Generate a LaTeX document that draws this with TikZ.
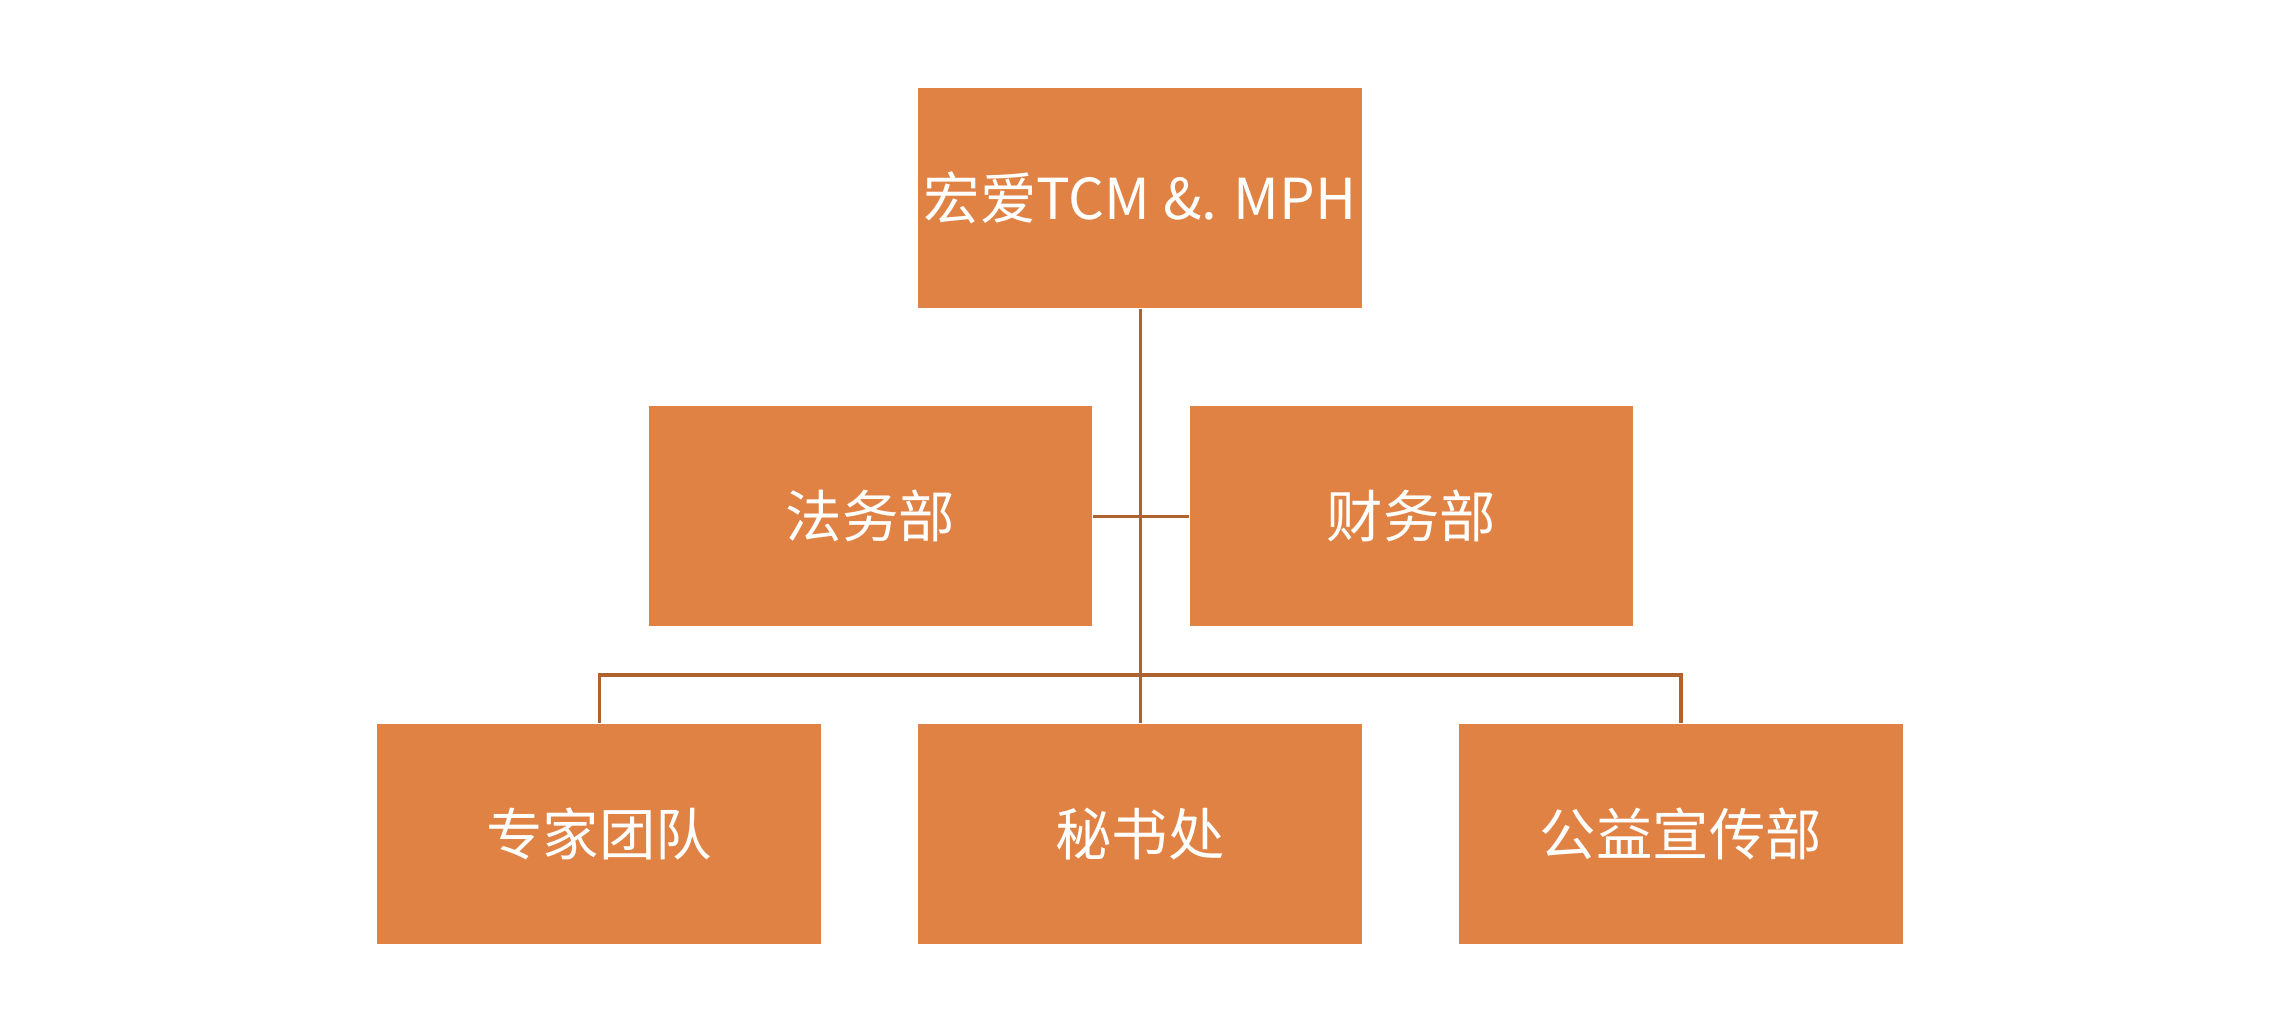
\documentclass[tikz,border=0pt]{standalone}
\usepackage{fontspec}
\setmainfont{Noto Sans CJK SC}
\usetikzlibrary{positioning}
\definecolor{boxorange}{HTML}{E08244}
\definecolor{linkbrown}{HTML}{B0622E}
\begin{document}
\begin{tikzpicture}[x=0.01cm,y=-0.01cm,
  dept/.style={fill=boxorange,text=white,minimum width=3.04cm,minimum height=1.51cm,inner sep=0pt,font=\fontsize{11}{13}\selectfont},
  link/.style={draw=linkbrown,line width=0.6pt}]
\useasboundingbox (0,0) rectangle (1568,697);
\node[dept] (top) at (782,136) {宏爱TCM \&. MPH};
% middle row
\node[dept] (law) at (597,354) {法务部};
\node[dept] (fin) at (968,354) {财务部};
% bottom row
\node[dept] (exp) at (411,572) {专家团队};
\node[dept] (sec) at (782,572) {秘书处};
\node[dept] (pub) at (1153,572) {公益宣传部};
\coordinate (bus) at (782,463);
\draw[link] (top.south)--(sec.north);
\draw[link] (law.east)--(fin.east -| law.east) -- (fin.west);
\draw[link] (exp.north)|-(bus)-|(pub.north);
\end{tikzpicture}
\end{document}
